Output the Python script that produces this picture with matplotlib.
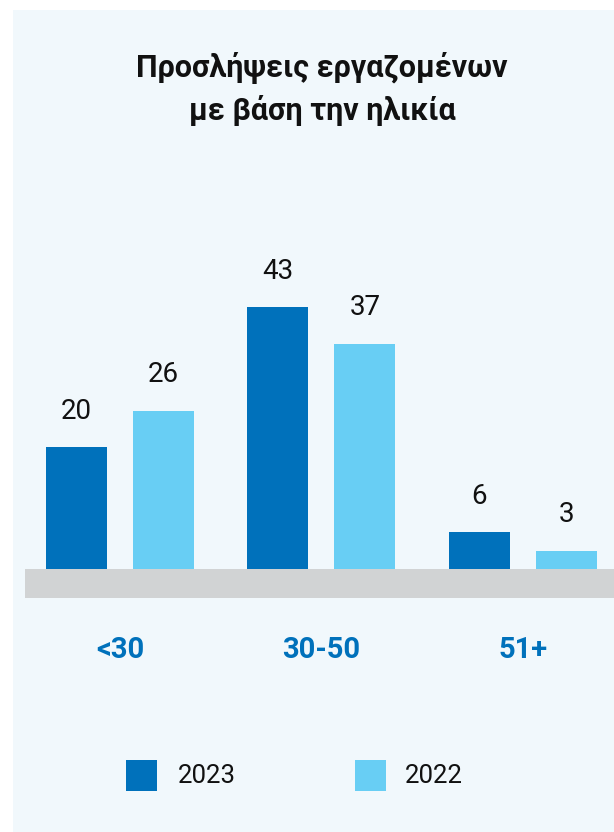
import numpy as np
import matplotlib.pyplot as plt
from matplotlib.patches import Rectangle

plt.rcParams['font.family'] = ['Roboto', 'DejaVu Sans']

TITLE = "Προσλήψεις εργαζομένων\nμε βάση την ηλικία"
categories = ["<30", "30-50", "51+"]
series_names = ["2023", "2022"]
values_2023 = [20, 43, 6]
values_2022 = [26, 37, 3]

DARK = "#0071BB"
LIGHT = "#68CEF4"
BG = "#F1F8FC"
GRAY = "#D1D3D4"

W, H = 614, 832
fig = plt.figure(figsize=(W / 100, H / 100), dpi=100)
fig.patch.set_facecolor("white")
# light panel behind everything
fig.patches.append(Rectangle((13 / W, 0), 1, 1 - 10 / H, transform=fig.transFigure,
                             facecolor=BG, edgecolor="none", zorder=-5))

# axes in pixel terms: left 25, right 614, bottom 598, top 200
ax = fig.add_axes([25 / W, 1 - 598 / H, 1 - 25 / W, (598 - 200) / H])
ax.set_zorder(2)
ax.patch.set_visible(False)
px_unit = 6.09
ax.set_xlim((25 - 120) / 201.5, (614 - 120) / 201.5)
ax.set_ylim(-29 / px_unit, (569 - 200) / px_unit)
ax.axis("off")

x = np.arange(len(categories))
bw = 61 / 201.5
off = 43.5 / 201.5

ax.axhspan(-29 / px_unit, 0, color=GRAY, zorder=1, lw=0)
for vals, sign, col in [(values_2023, -1, DARK), (values_2022, 1, LIGHT)]:
    bars = ax.bar(x + sign * off, vals, width=bw, color=col, zorder=2)
    for b, v in zip(bars, vals):
        ax.annotate(str(v), (b.get_x() + b.get_width() / 2, v), xytext=(0, 26),
                    textcoords="offset points", ha="center", va="center",
                    fontsize=20, color="#111111")

for i, c in enumerate(categories):
    fig.text((120 + 201.5 * i) / W, 1 - 650 / H, c, ha="center", va="center",
             fontsize=21, fontweight="bold", color=DARK)

fig.text(322 / W, 1 - 89 / H, TITLE, ha="center", va="center", fontsize=22,
         fontweight="bold", color="#111111", linespacing=1.45)

# legend
for sx, tx, col, name in [(126, 178, DARK, "2023"), (355, 405, LIGHT, "2022")]:
    fig.patches.append(Rectangle((sx / W, 1 - 791 / H), 31 / W, 31 / H,
                                 transform=fig.transFigure, facecolor=col,
                                 edgecolor="none", zorder=3))
    fig.text(tx / W, 1 - 776 / H, name, ha="left", va="center", fontsize=18.5,
             color="#111111")

fig.savefig("out.png", dpi=100)
